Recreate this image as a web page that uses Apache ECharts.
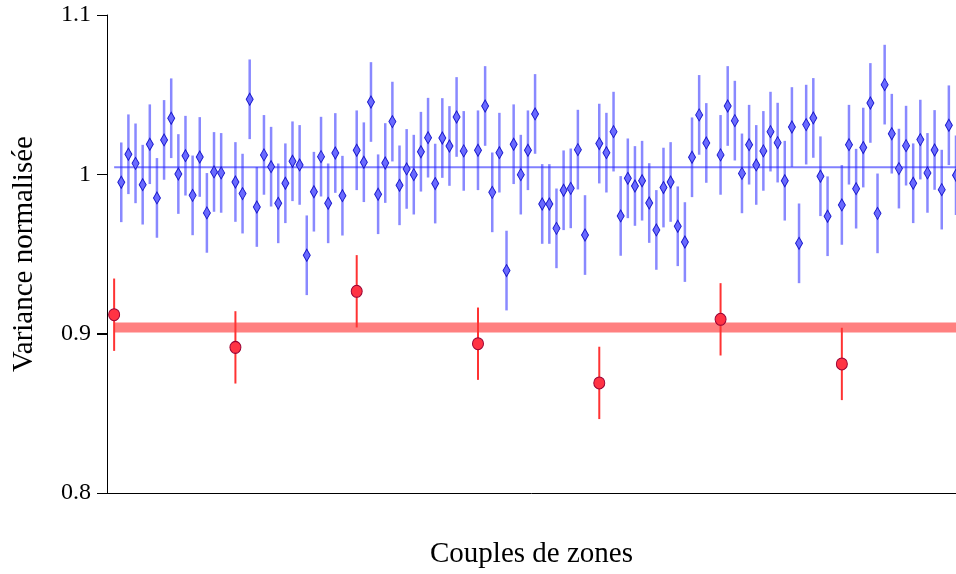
<!DOCTYPE html>
<html>
<head>
<meta charset="utf-8">
<script src="https://cdn.jsdelivr.net/npm/echarts@6/dist/echarts.min.js"></script>
<style>
html,body{margin:0;padding:0;background:#fff;}
#chart{width:956px;height:574px;}
</style>
</head>
<body>
<div id="chart"></div>
<script>
// Blue series: one value per pair index (null = no blue point at that index)
var blueValues = [
  null, 0.995, 1.0126, 1.0069, 0.9935, 1.0189, 0.9852, 1.0216, 1.0352, 1.0002,
  1.0117, 0.9868, 1.0109, 0.9758, 1.0015, 1.0009, null, 0.9952, 0.9879, 1.0471,
  0.9795, 1.0122, 1.0048, 0.9818, 0.9944, 1.0082, 1.0059, 0.9492, 0.9891, 1.0111,
  0.9818, 1.0134, 0.9866, null, 1.0151, 1.0076, 1.0454, 0.9875, 1.0071, 1.0331,
  0.9931, 1.0034, 0.9998, 1.0142, 1.023, 0.9942, 1.0228, 1.0178, 1.036, 1.0147,
  null, 1.0151, 1.0429, 0.9887, 1.0136, 0.9396, 1.0189, 0.9998, 1.0151, 1.0379,
  0.9814, 0.9814, 0.9661, 0.99, 0.9912, 1.0155, 0.9619, null, 1.0193, 1.0136,
  1.0268, 0.9739, 0.9975, 0.9927, 0.996, 0.982, 0.9651, 0.9917, 0.9952, 0.9674,
  0.9575, 1.0107, 1.0373, 1.0197, null, 1.0122, 1.0429, 1.0337, 1.0006, 1.0186,
  1.0059, 1.0147, 1.0268, 1.0199, 0.996, 1.0297, 0.9567, 1.0312, 1.0354, 0.9988,
  0.9737, null, 0.9808, 1.0186, 0.991, 1.0168, 1.0448, 0.9755, 1.0563, 1.0255,
  1.0036, 1.018, 0.9944, 1.0218, 1.0009, 1.0153, 0.9904, 1.0308, 0.9994
];
var blueErr = 0.025;
var blueMean = 1.0045;

// Red series: pair index and value
var redIndex = [0, 17, 34, 51, 68, 85, 102];
var redValues = [0.9119, 0.8914, 0.9266, 0.8937, 0.8691, 0.909, 0.881];
var redErr = 0.0227;
var redMean = 0.9038;

var yTicks = ['0.8', '0.9', '1', '1.1'];
var yTickValues = [0.8, 0.9, 1.0, 1.1];

var blueData = [];
blueValues.forEach(function (v, i) { if (v !== null) blueData.push([i, v, blueErr]); });
var redData = redIndex.map(function (x, i) { return [x, redValues[i], redErr]; });
var lastIndex = blueValues.length - 1;
var xMin = -1;

function errRender(color, width) {
  return function (params, api) {
    var x = api.value(0), y = api.value(1), e = api.value(2);
    var p1 = api.coord([x, y - e]);
    var p2 = api.coord([x, y + e]);
    return {
      type: 'line',
      shape: { x1: p1[0], y1: p1[1], x2: p2[0], y2: p2[1] },
      style: { stroke: color, lineWidth: width }
    };
  };
}

function tickRender(params, api) {
  var p = api.coord([api.value(0), api.value(1)]);
  var x = Math.round(p[0]), y = Math.round(p[1]);
  return {
    type: 'rect',
    shape: { x: x - 10, y: y, width: 10, height: 1 },
    style: { fill: '#000' }
  };
}

var serif = "'Liberation Serif', 'Times New Roman', serif";
var chart = echarts.init(document.getElementById('chart'), null, { renderer: 'canvas' });
chart.setOption({
  animation: false,
  backgroundColor: '#ffffff',
  textStyle: { fontFamily: serif, color: '#000' },
  grid: { left: 107, right: 0, top: 15, bottom: 81, containLabel: false, outerBoundsMode: 'none' },
  xAxis: {
    type: 'value', min: xMin, max: lastIndex,
    axisLine: { show: true, onZero: false, lineStyle: { color: '#000', width: 1 } },
    axisTick: { show: false }, axisLabel: { show: false }, splitLine: { show: false },
    name: 'Couples de zones', nameLocation: 'middle', nameGap: 47,
    nameTextStyle: { fontFamily: serif, fontSize: 29, color: '#000' }
  },
  yAxis: {
    type: 'value', min: 0.8, max: 1.1, interval: 0.1,
    axisLine: { show: true, onZero: false, lineStyle: { color: '#000', width: 1 } },
    axisTick: { show: true, inside: false, length: 10, lineStyle: { color: '#000', width: 1 } },
    splitLine: { show: false },
    axisLabel: {
      fontFamily: serif, fontSize: 24, color: '#000', margin: 16,
      formatter: function (v) {
        var idx = Math.round((v - 0.8) / 0.1);
        return yTicks[idx] !== undefined ? yTicks[idx] : '';
      }
    },
    name: 'Variance normalisée', nameLocation: 'middle', nameGap: 68, nameRotate: 90,
    nameTextStyle: { fontFamily: serif, fontSize: 29, color: '#000' }
  },
  series: [
    {
      type: 'line', data: [[0, redMean], [lastIndex, redMean]], symbol: 'none',
      lineStyle: { color: '#ff8080', width: 10 }, z: 1, silent: true
    },
    {
      type: 'line', data: [[0, blueMean], [lastIndex, blueMean]], symbol: 'none',
      lineStyle: { color: '#8080ff', width: 2 }, z: 1, silent: true
    },
    {
      type: 'custom', data: blueData, renderItem: errRender('rgba(40,40,255,0.55)', 2.5), z: 2
    },
    {
      type: 'custom', data: redData, renderItem: errRender('#ff3333', 2), z: 2
    },
    {
      type: 'custom', data: yTickValues.map(function (v) { return [xMin, v]; }),
      renderItem: tickRender, clip: false, silent: true, z: 5
    },
    {
      type: 'scatter', data: blueData, symbol: 'diamond', symbolSize: [7, 12],
      itemStyle: { color: '#6a6aff', borderColor: '#1a1acc', borderWidth: 1, opacity: 1 }, z: 3
    },
    {
      type: 'scatter', data: redData, symbol: 'circle', symbolSize: [11, 12],
      itemStyle: { color: '#ff3344', borderColor: '#990033', borderWidth: 1, opacity: 1 }, z: 3
    }
  ]
});
</script>
</body>
</html>
